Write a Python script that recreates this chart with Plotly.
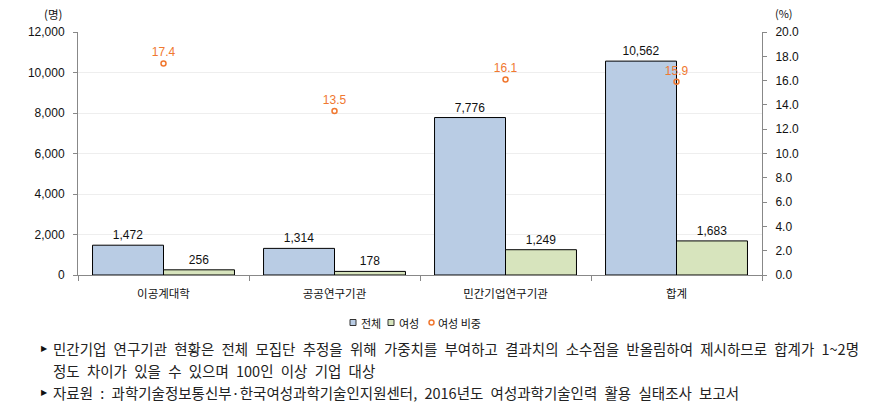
import plotly.graph_objects as go

categories = ["이공계대학", "공공연구기관", "민간기업연구기관", "합계"]
total = [1472, 1314, 7776, 10562]
female = [256, 178, 1249, 1683]
female_ratio = [17.4, 13.5, 16.1, 15.9]

left_ticks = [0, 2000, 4000, 6000, 8000, 10000, 12000]
right_ticks = [0, 2, 4, 6, 8, 10, 12, 14, 16, 18, 20]

BLUE = "#B9CCE4"
GREEN = "#D7E4BD"
ORANGE = "#F07830"

num_font = dict(family="Liberation Sans, Arial, sans-serif", size=12, color="#111111")
kr_font = "Noto Sans CJK KR, sans-serif"

# plot area in pixels (for placing paper-referenced extras)
L, R, T, B = 78, 762, 32, 275
def px(x):
    return (x - L) / (R - L)
def py(y):
    return (B - y) / (B - T)

fig = go.Figure()
fig.add_trace(go.Bar(
    x=categories, y=total, name="전체",
    marker=dict(color=BLUE, line=dict(color="#000000", width=1)),
    text=[f"{v:,}" for v in total], textposition="outside",
    textfont=num_font, cliponaxis=False,
))
fig.add_trace(go.Bar(
    x=categories, y=female, name="여성",
    marker=dict(color=GREEN, line=dict(color="#000000", width=1)),
    text=[f"{v:,}" for v in female], textposition="outside",
    textfont=num_font, cliponaxis=False,
))
fig.add_trace(go.Scatter(
    x=categories, y=female_ratio, name="여성 비중", yaxis="y2",
    mode="markers+text",
    marker=dict(symbol="circle-open", size=5, color=ORANGE, line=dict(width=1.5)),
    text=[f"{v:.1f}" for v in female_ratio], textposition="top center",
    textfont=dict(family="Liberation Sans, Arial, sans-serif", size=12, color=ORANGE),
    cliponaxis=False,
))

fig.update_layout(
    width=888, height=407,
    margin=dict(l=L, r=888 - R, t=T, b=407 - B),
    paper_bgcolor="white", plot_bgcolor="white",
    barmode="group", bargap=0.17, bargroupgap=0,
    showlegend=False,
    xaxis=dict(
        showline=True, linecolor="#888888", linewidth=1,
        ticks="outside", tickson="boundaries", ticklen=5, tickcolor="#888888",
        tickfont=dict(family=kr_font, size=11.5, color="#111111"),
        ticklabelstandoff=8,
        showgrid=False,
    ),
    yaxis=dict(
        range=[0, 12000], tickvals=left_ticks,
        ticktext=[f"{v:,}" for v in left_ticks],
        showline=True, linecolor="#888888", linewidth=1,
        ticks="outside", ticklen=4, tickcolor="#888888",
        ticklabelstandoff=6,
        showgrid=True, gridcolor="#EEEEEE", zeroline=False,
        tickfont=num_font,
    ),
    yaxis2=dict(
        range=[0, 20], tickvals=right_ticks,
        ticktext=[f"{v:.1f}" for v in right_ticks],
        overlaying="y", side="right",
        showline=True, linecolor="#888888", linewidth=1,
        ticks="outside", ticklen=4, tickcolor="#888888",
        ticklabelstandoff=6,
        showgrid=False, zeroline=False,
        tickfont=num_font,
    ),
)

# axis unit labels
fig.add_annotation(text="(명)", xref="paper", yref="paper", x=px(53), y=py(14),
                   xanchor="center", yanchor="middle",
                   showarrow=False, font=dict(family=kr_font, size=11.5, color="#111111"))
fig.add_annotation(text="(%)", xref="paper", yref="paper", x=px(784), y=py(13),
                   xanchor="center", yanchor="middle",
                   showarrow=False, font=dict(family=kr_font, size=11, color="#111111"))

# custom compact legend
ly = 322.5
legend_items = [
    ("rect", BLUE, 350, "전체", 359),
    ("rect", GREEN, 388, "여성", 397),
    ("circle", ORANGE, 429, "여성 비중", 436),
]
for kind, col, x0, label, tx in legend_items:
    if kind == "rect":
        fig.add_shape(type="rect", xref="paper", yref="paper",
                      x0=px(x0), x1=px(x0 + 6), y0=py(ly + 3), y1=py(ly - 3),
                      fillcolor=col, line=dict(color="#333333", width=1))
    else:
        fig.add_shape(type="circle", xref="paper", yref="paper",
                      x0=px(x0), x1=px(x0 + 5), y0=py(ly + 2.5), y1=py(ly - 2.5),
                      fillcolor="white", line=dict(color=col, width=1.5))
    fig.add_annotation(text=label, xref="paper", yref="paper", x=px(tx), y=py(ly),
                       xanchor="left", yanchor="middle", showarrow=False,
                       font=dict(family=kr_font, size=11, color="#111111"))

EN = "\u2002"
notes = [
    (True, "민간기업 연구기관 현황은 전체 모집단 추정을 위해 가중치를 부여하고 결과치의 소수점을 반올림하여 제시하므로 합계가 1~2명", 348),
    (False, "정도 차이가 있을 수 있으며 100인 이상 기업 대상", 370),
    (True, "자료원 : 과학기술정보통신부·한국여성과학기술인지원센터, 2016년도 여성과학기술인력 활용 실태조사 보고서", 392),
]
for mark, txt, ypix in notes:
    if mark:
        fig.add_annotation(text="▶", xref="paper", yref="paper",
                           x=px(39), y=py(ypix), xanchor="left", yanchor="middle",
                           showarrow=False, font=dict(family="DejaVu Sans, sans-serif", size=8, color="#111111"))
    fig.add_annotation(text=txt.replace(" ", EN), xref="paper", yref="paper",
                       x=px(51), y=py(ypix), xanchor="left", yanchor="middle",
                       showarrow=False, font=dict(family=kr_font, size=14.5, color="#222222"))

fig.write_html("out.html")
